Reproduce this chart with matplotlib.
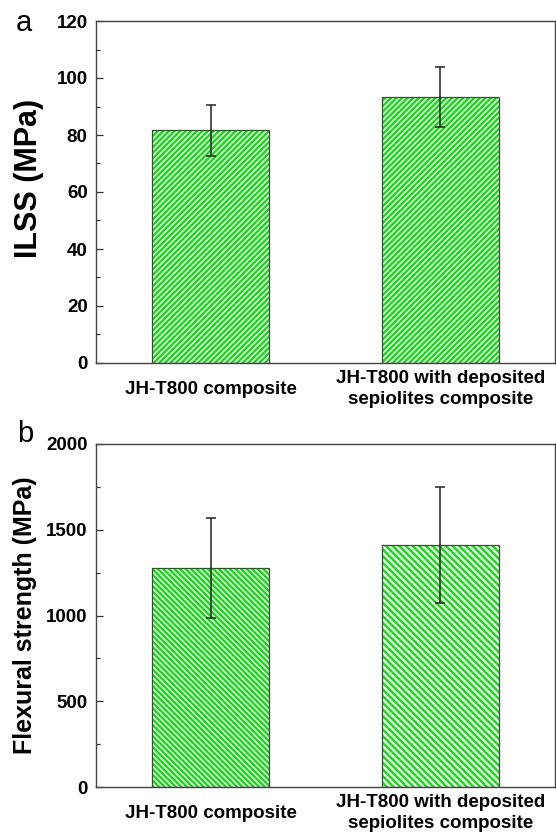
import numpy as np
import matplotlib
matplotlib.use("Agg")
import matplotlib.pyplot as plt
from matplotlib.ticker import MultipleLocator

matplotlib.rcParams["font.family"] = ["Liberation Sans", "DejaVu Sans"]
matplotlib.rcParams["hatch.linewidth"] = 1.7

# data
categories = ["JH-T800 composite", "JH-T800 with deposited\nsepiolites composite"]
ilss_mean = [81.7, 93.2]
ilss_err = [9.0, 10.5]
flex_mean = [1278, 1412]
flex_err = [290, 339]

green = "#19d819"
edge = "#444444"

fig = plt.figure(figsize=(5.56, 8.35), dpi=100)
ax_a = fig.add_axes([96 / 556, 1 - 363 / 835, 459 / 556, 342 / 835])
ax_b = fig.add_axes([96 / 556, 1 - 787 / 835, 459 / 556, 343 / 835])


def draw_panel(ax, means, errs, hatches, ymax, major, minor):
    x = np.arange(1, len(means) + 1)
    # hatched fill, then the outline on top
    for xi, m, h in zip(x, means, hatches):
        ax.bar(xi, m, width=0.51, color="#eafdea", edgecolor=green, hatch=h, linewidth=0, zorder=2)
    ax.bar(x, means, width=0.51, fill=False, edgecolor=edge, linewidth=0.9, zorder=3)
    ax.errorbar(x, means, yerr=errs, fmt="none", ecolor="#222222", elinewidth=1.1,
                capsize=3.5, capthick=1.1, zorder=4)
    ax.set_xlim(0.5, 2.5)
    ax.set_ylim(0, ymax)
    ax.yaxis.set_major_locator(MultipleLocator(major))
    ax.yaxis.set_minor_locator(MultipleLocator(minor))
    ax.set_xticks(x)
    ax.set_xticklabels(categories, fontsize=13.5, fontweight="bold", linespacing=1.3)
    for lbl in ax.get_xticklabels():
        lbl.set_va("center")
    ax.tick_params(axis="x", length=0, pad=19)
    ax.tick_params(axis="y", which="major", direction="in", length=5, width=0.9,
                   labelsize=13.5, pad=6, colors="#333333", labelcolor="black")
    ax.tick_params(axis="y", which="minor", direction="in", length=3, width=0.9, colors="#333333")
    for lbl in ax.get_yticklabels():
        lbl.set_fontweight("bold")
    for sp in ax.spines.values():
        sp.set_color("#444444")
        sp.set_linewidth(1.0)


draw_panel(ax_a, ilss_mean, ilss_err, ["//////", "//////"], 120, 20, 10)
draw_panel(ax_b, flex_mean, flex_err, ["\\" * 6, "\\" * 5], 2000, 500, 250)

ax_a.set_ylabel("ILSS (MPa)", fontsize=22, fontweight="bold")
ax_a.yaxis.set_label_coords(-0.113, 0.54)
ax_b.set_ylabel("Flexural strength (MPa)", fontsize=18, fontweight="bold")
ax_b.yaxis.set_label_coords(-0.128, 0.5)

fig.text(24 / 556, 1 - 23 / 835, "a", fontsize=21, ha="center", va="center")
fig.text(25 / 556, 1 - 434 / 835, "b", fontsize=21, ha="center", va="center")

fig.savefig("out.png", dpi=100)
